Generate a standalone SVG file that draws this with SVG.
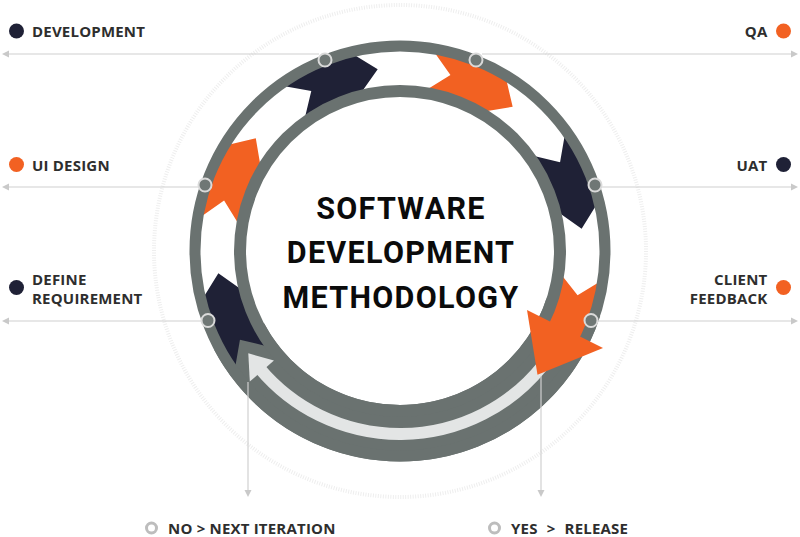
<svg xmlns="http://www.w3.org/2000/svg" width="800" height="537" viewBox="0 0 800 537">
<defs>
<style>
.lbl{font-family:"Open Sans","Liberation Sans",sans-serif;font-weight:700;font-size:15px;fill:#2e2e2e;letter-spacing:0.2px}
.ttl{font-family:Roboto,"Liberation Sans",sans-serif;font-weight:700;font-size:30.5px;fill:#0b0b0b;letter-spacing:1.3px}
.ln{stroke:#d0d0d0;stroke-width:1.2;fill:none}
.ah{fill:#c9c9c9}
.dk{fill:#1f2136}
.or{fill:#f26122}
.ring{fill:none;stroke:#6a7270}
.pt{fill:#6f7775;stroke:#dadada;stroke-width:2}
.io{fill:none;stroke:#bdbdbd;stroke-width:3}
</style>
<path id="chev" d="M201,0 L182,19.13 L165,0 A165,165 0 0 1 152.99,61.81 L161.58,85.91 L186.36,75.3 A201,201 0 0 0 201,0 Z"/>
</defs>
<rect width="800" height="537" fill="#ffffff"/>
<circle cx="400" cy="251" r="246" fill="none" stroke="#eeeeee" stroke-width="4" stroke-dasharray="1 1.5"/>

<g id="cycle">
  <path fill="#6a7270" transform="translate(400 251) rotate(18)" d="M210.5,0 A210.5,210.5 0 0 1 -146.23,151.42 L-106.98,110.78 A154,154 0 0 0 154,0 Z"/>
  <path fill="none" stroke="#e3e5e5" stroke-width="12" transform="translate(400 251) rotate(39)" d="M183,0 A183,183 0 0 1 -34.92,179.64"/>
  <path fill="#e3e5e5" d="M273.96,360.56 L248.29,353.33 L249.81,381.56 Z"/>
  <use href="#chev" class="dk" transform="translate(400 251) rotate(145)"/>
  <use href="#chev" class="or" transform="translate(400 251) rotate(190)"/>
  <use href="#chev" class="dk" transform="translate(400 251) rotate(235)"/>
  <use href="#chev" class="or" transform="translate(400 251) rotate(280)"/>
  <use href="#chev" class="dk" transform="translate(400 251) rotate(325)"/>
  <path class="or" transform="translate(400 251) rotate(9)" d="M201,0 L182.3,15.95 L165,0 A165,165 0 0 1 157.79,48.24 L192.22,58.77 A201,201 0 0 0 201,0 Z"/>
  <circle class="ring" cx="400" cy="251" r="205" stroke-width="11"/>
  <circle class="ring" cx="400" cy="251" r="160" stroke-width="12"/>
  <path class="or" d="M527,310 L603,348 L537.5,374.8 Z"/>
</g>

<g id="connectors">
  <path class="ln" d="M8,54 H319"/><path class="ah" d="M2,54 L9,50.5 L9,57.5 Z"/>
  <path class="ln" d="M482,54 H792"/><path class="ah" d="M798,54 L791,50.5 L791,57.5 Z"/>
  <path class="ln" d="M8,187 H199"/><path class="ah" d="M2,187 L9,183.5 L9,190.5 Z"/>
  <path class="ln" d="M600,187 H792"/><path class="ah" d="M798,187 L791,183.5 L791,190.5 Z"/>
  <path class="ln" d="M8,321 H202"/><path class="ah" d="M2,321 L9,317.5 L9,324.5 Z"/>
  <path class="ln" d="M598,321 H792"/><path class="ah" d="M798,321 L791,317.5 L791,324.5 Z"/>
  <path class="ln" d="M248,382 V491"/><path class="ah" d="M248,497 L244.5,490 L251.5,490 Z"/>
  <path class="ln" d="M541,376 V491"/><path class="ah" d="M541,497 L537.5,490 L544.5,490 Z"/>
  <circle class="pt" cx="325" cy="60" r="6.5"/>
  <circle class="pt" cx="476" cy="60" r="6.5"/>
  <circle class="pt" cx="205" cy="185" r="6.5"/>
  <circle class="pt" cx="595" cy="185" r="6.5"/>
  <circle class="pt" cx="208" cy="320.5" r="6.5"/>
  <circle class="pt" cx="591" cy="320.5" r="6.5"/>
</g>

<g id="title">
  <text class="ttl" x="401" y="218.5" text-anchor="middle">SOFTWARE</text>
  <text class="ttl" x="401" y="263" text-anchor="middle">DEVELOPMENT</text>
  <text class="ttl" x="401" y="307.5" text-anchor="middle">METHODOLOGY</text>
</g>

<g id="n-development"><circle class="dk" cx="16.5" cy="31" r="7.5"/><text class="lbl" x="32" y="37">DEVELOPMENT</text></g>
<g id="n-ui-design"><circle class="or" cx="16.5" cy="164.5" r="7.5"/><text class="lbl" x="32" y="171">UI DESIGN</text></g>
<g id="n-define-requirement"><circle class="dk" cx="16.5" cy="287.5" r="7.5"/><text class="lbl" x="32" y="285">DEFINE</text><text class="lbl" x="32" y="304">REQUIREMENT</text></g>
<g id="n-qa"><circle class="or" cx="783.5" cy="31" r="7.5"/><text class="lbl" x="767.5" y="37" text-anchor="end">QA</text></g>
<g id="n-uat"><circle class="dk" cx="783.5" cy="164.5" r="7.5"/><text class="lbl" x="767.5" y="171" text-anchor="end">UAT</text></g>
<g id="n-client-feedback"><circle class="or" cx="783.5" cy="287.5" r="7.5"/><text class="lbl" x="767.5" y="285" text-anchor="end">CLIENT</text><text class="lbl" x="767.5" y="304" text-anchor="end">FEEDBACK</text></g>
<g id="n-next-iteration"><circle class="io" cx="151.5" cy="528" r="5"/><text class="lbl" x="168" y="534">NO &gt; NEXT ITERATION</text></g>
<g id="n-release"><circle class="io" cx="494.5" cy="528" r="5"/><text class="lbl" x="511" y="534" word-spacing="5">YES &gt; RELEASE</text></g>
</svg>
